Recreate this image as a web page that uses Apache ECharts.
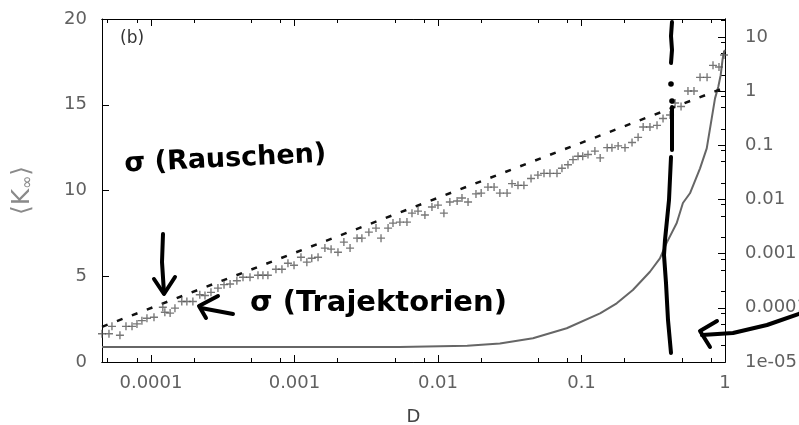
<!DOCTYPE html>
<html>
<head>
<meta charset="utf-8">
<script src="https://cdn.jsdelivr.net/npm/echarts@6/dist/echarts.min.js"></script>
<style>
  html, body { margin: 0; padding: 0; background: #fff; }
  #main { width: 799px; height: 425px; }
</style>
</head>
<body>
<div id="main"></div>
<script>
// x positions (D) of the "+" points and their <K_inf> values
var plusD = [4.56e-5, 5.10e-5, 5.35e-5, 6.08e-5, 6.70e-5, 7.38e-5, 7.99e-5, 8.65e-5, 9.38e-5, 1.05e-4,
  1.21e-4, 1.25e-4, 1.36e-4, 1.47e-4, 1.64e-4, 1.78e-4, 1.96e-4, 2.19e-4, 2.38e-4, 2.62e-4,
  2.93e-4, 3.23e-4, 3.56e-4, 3.97e-4, 4.38e-4, 4.90e-4, 5.57e-4, 6.03e-4, 6.53e-4, 7.43e-4,
  8.18e-4, 9.01e-4, 9.93e-4, 1.11e-3, 1.22e-3, 1.32e-3, 1.46e-3, 1.63e-3, 1.80e-3, 2.01e-3,
  2.21e-3, 2.44e-3, 2.73e-3, 2.95e-3, 3.30e-3, 3.70e-3, 4.01e-3, 4.49e-3, 4.86e-3, 5.43e-3,
  6.08e-3, 6.59e-3, 7.26e-3, 8.11e-3, 9.08e-3, 1.00e-2, 1.10e-2, 1.21e-2, 1.36e-2, 1.47e-2,
  1.62e-2, 1.84e-2, 2.00e-2, 2.23e-2, 2.46e-2, 2.70e-2, 3.03e-2, 3.28e-2, 3.61e-2, 3.97e-2,
  4.45e-2, 4.97e-2, 5.48e-2, 6.03e-2, 6.75e-2, 7.31e-2, 8.05e-2, 8.73e-2, 9.46e-2, 0.102,
  0.111, 0.124, 0.135, 0.151, 0.163, 0.180, 0.201, 0.225, 0.248, 0.269,
  0.300, 0.336, 0.370, 0.414, 0.449, 0.494, 0.552, 0.608, 0.670, 0.750,
  0.825, 0.908, 0.984];
var plusK = [1.65, 1.65, 2.08, 1.56, 2.08, 2.08, 2.22, 2.41, 2.55, 2.61,
  3.19, 2.90, 2.85, 3.14, 3.53, 3.53, 3.53, 3.92, 3.88, 4.06,
  4.31, 4.51, 4.55, 4.74, 4.94, 4.94, 5.06, 5.06, 5.06, 5.41,
  5.41, 5.76, 5.64, 6.11, 5.82, 6.05, 6.11, 6.64, 6.58, 6.40,
  6.99, 6.64, 7.22, 7.22, 7.57, 7.81, 7.22, 7.81, 8.10, 8.16,
  8.16, 8.68, 8.80, 8.57, 9.04, 9.15, 8.68, 9.33, 9.39, 9.56,
  9.33, 9.80, 9.85, 10.2, 10.2, 9.85, 9.85, 10.4, 10.3, 10.3,
  10.7, 10.9, 11.0, 11.0, 11.0, 11.3, 11.5, 11.8, 12.0, 12.0,
  12.1, 12.3, 11.9, 12.5, 12.5, 12.6, 12.5, 12.8, 13.1, 13.7,
  13.7, 13.8, 14.2, 14.4, 15.1, 14.9, 15.8, 15.8, 16.6, 16.6,
  17.3, 17.2, 17.9];

// dashed line (left axis)
var dashD = [4.56e-5, 1];
var dashK = [2.05, 16.0];

// solid grey curve (right log axis)
var curveD = [4.56e-5, 2.2e-4, 1.1e-3, 5.4e-3, 0.016, 0.027, 0.0459, 0.0789, 0.1347, 0.176,
  0.228, 0.300, 0.352, 0.392, 0.461, 0.509, 0.570, 0.670, 0.746, 0.808,
  0.852, 0.898, 0.933, 0.964, 0.984, 1.0];
var curveV = [1.9e-5, 1.9e-5, 1.9e-5, 1.9e-5, 2.0e-5, 2.2e-5, 2.74e-5, 4.19e-5, 7.9e-5, 1.21e-4,
  2.13e-4, 4.63e-4, 8.2e-4, 1.58e-3, 3.67e-3, 8.6e-3, 0.013, 0.0375, 0.0877, 0.313,
  0.733, 1.2, 1.97, 4.0, 5.3, 5.7];

// ticks
var xMajor = [1e-4, 1e-3, 1e-2, 0.1, 1];
var xMajorLabels = ['0.0001', '0.001', '0.01', '0.1', '1'];
var xMinor = [5e-5, 8e-5, 2e-4, 5e-4, 8e-4, 2e-3, 5e-3, 8e-3, 0.02, 0.05, 0.08, 0.2, 0.5, 0.8];
var y2Major = [1e-5, 1e-4, 1e-3, 1e-2, 0.1, 1, 10];
var y2MajorLabels = ['1e-05', '0.0001', '0.001', '0.01', '0.1', '1', '10'];
var y2Minor = [2e-5, 5e-5, 8e-5, 2e-4, 5e-4, 8e-4, 2e-3, 5e-3, 8e-3, 0.02, 0.05, 0.08,
  0.2, 0.5, 0.8, 2, 5, 8, 20];

var xMin = 4.56e-5, xMax = 1;
var y2Min = 1e-5, y2Max = 21.4;

function pick(vals, labels, v) {
  var best = 0;
  for (var i = 0; i < vals.length; i++) {
    if (Math.abs(Math.log10(vals[i]) - Math.log10(v)) < Math.abs(Math.log10(vals[best]) - Math.log10(v))) best = i;
  }
  return labels[best];
}

var labelFont = { fontFamily: 'DejaVu Sans', fontSize: 18, color: '#606060' };
var lineBlack = { color: '#000', width: 1 };

function xAx(pos, ticks, len, labels) {
  return {
    type: 'log', logBase: 10, min: xMin, max: xMax, position: pos,
    axisLine: { show: true, lineStyle: lineBlack },
    axisTick: { show: true, inside: true, length: len, customValues: ticks, lineStyle: lineBlack },
    axisLabel: labels ? Object.assign({
      show: true, margin: 12, customValues: xMajor,
      formatter: function (v) { return pick(xMajor, xMajorLabels, v); }
    }, labelFont) : { show: false },
    splitLine: { show: false }, minorTick: { show: false }
  };
}
function y2Ax(ticks, len, labels) {
  return {
    type: 'log', logBase: 10, min: y2Min, max: y2Max, position: 'right',
    axisLine: { show: true, lineStyle: lineBlack },
    axisTick: { show: true, inside: true, length: len, customValues: ticks, lineStyle: lineBlack },
    axisLabel: labels ? Object.assign({
      show: true, margin: 20, customValues: y2Major,
      formatter: function (v) { return pick(y2Major, y2MajorLabels, v); }
    }, labelFont) : { show: false },
    splitLine: { show: false }, minorTick: { show: false }
  };
}

function pairs(a, b) {
  var out = [];
  for (var i = 0; i < a.length; i++) out.push([a[i], b[i]]);
  return out;
}

var hand = { stroke: '#000', lineWidth: 4, fill: null, lineCap: 'round', lineJoin: 'round' };

var myChart = echarts.init(document.getElementById('main'));
var xBottom = xAx('bottom', xMajor, 7, true);
xBottom.name = 'D';
xBottom.nameLocation = 'middle';
xBottom.nameGap = 46;
xBottom.nameTextStyle = { fontFamily: 'DejaVu Sans', fontSize: 18, color: '#444' };

myChart.setOption({
  animation: false,
  backgroundColor: '#fff',
  grid: { left: 102, right: 74, top: 19, bottom: 63, outerBoundsMode: 'none', containLabel: false },
  xAxis: [
    xBottom,
    xAx('bottom', xMinor, 4, false),
    xAx('top', xMajor, 7, false),
    xAx('top', xMinor, 4, false)
  ],
  yAxis: [
    {
      type: 'value', min: 0, max: 20, interval: 5, position: 'left',
      name: '⟨K{s|∞}⟩', nameLocation: 'middle', nameGap: 66, nameRotate: 90,
      nameTextStyle: {
        fontFamily: 'DejaVu Sans', fontSize: 25, color: '#8a8a8a',
        rich: { s: { fontFamily: 'DejaVu Sans', fontSize: 16, color: '#8a8a8a', padding: [12, 0, 0, 0] } }
      },
      axisLine: { show: true, lineStyle: lineBlack },
      axisTick: { show: true, inside: true, length: 7, lineStyle: lineBlack },
      axisLabel: Object.assign({ margin: 15 }, labelFont),
      splitLine: { show: false }
    },
    y2Ax(y2Major, 7, true),
    y2Ax(y2Minor, 4, false)
  ],
  series: [
    {
      type: 'line', name: 'curve', xAxisIndex: 0, yAxisIndex: 1,
      data: pairs(curveD, curveV), showSymbol: false, symbol: 'none',
      lineStyle: { color: '#666', width: 2 }, z: 2
    },
    {
      type: 'line', name: 'dash', xAxisIndex: 0, yAxisIndex: 0,
      data: pairs(dashD, dashK), symbol: 'none',
      lineStyle: { color: '#111', width: 2.5, type: [6, 10] }, z: 3
    },
    {
      type: 'scatter', name: 'plus', xAxisIndex: 0, yAxisIndex: 0,
      data: pairs(plusD, plusK),
      symbol: 'path://M-1,-0.17H-0.17V-1H0.17V-0.17H1V0.17H0.17V1H-0.17V0.17H-1Z',
      symbolSize: 8, itemStyle: { color: '#555' }, z: 4
    }
  ],
  graphic: [
    { type: 'text', z: 50, style: { text: '(b)', x: 120, y: 30, font: '17px "DejaVu Sans"', fill: '#333' } },
    // handwritten notes
    { type: 'text', z: 60, rotation: 0.05, x: 125, y: 178,
      style: { text: 'σ (Rauschen)', x: 0, y: 0, textVerticalAlign: 'bottom', font: 'bold 27px "DejaVu Sans"', fill: '#000' } },
    { type: 'text', z: 60, x: 250, y: 318,
      style: { text: 'σ (Trajektorien)', x: 0, y: 0, textVerticalAlign: 'bottom', font: 'bold 29px "DejaVu Sans"', fill: '#000' } },
    { type: 'polyline', z: 60, shape: { points: [[672, 22], [671, 36], [672, 50], [671, 63]] }, style: hand },
    { type: 'circle', z: 60, shape: { cx: 671, cy: 84, r: 2.8 }, style: { fill: '#000' } },
    { type: 'circle', z: 60, shape: { cx: 672, cy: 101, r: 2.8 }, style: { fill: '#000' } },
    { type: 'polyline', z: 60, shape: { points: [[672, 107], [672, 130], [672, 150]] }, style: hand },
    { type: 'polyline', z: 60, shape: { points: [[671, 157], [669, 200], [665, 240], [664, 255], [666, 283], [668, 320], [671, 353]] }, style: hand },
    { type: 'polyline', z: 60, shape: { points: [[163, 234], [162, 262], [164, 293]] }, style: hand },
    { type: 'polyline', z: 60, shape: { points: [[154, 279], [164, 294], [175, 277]] }, style: hand },
    { type: 'polyline', z: 60, shape: { points: [[218, 296], [199, 306], [206, 318]] }, style: hand },
    { type: 'polyline', z: 60, shape: { points: [[201, 308], [233, 314]] }, style: hand },
    { type: 'polyline', z: 60, shape: { points: [[717, 321], [700, 331], [710, 347]] }, style: hand },
    { type: 'polyline', z: 60, shape: { points: [[702, 335], [733, 333], [767, 325], [799, 314]] }, style: hand }
  ]
});
</script>
</body>
</html>
